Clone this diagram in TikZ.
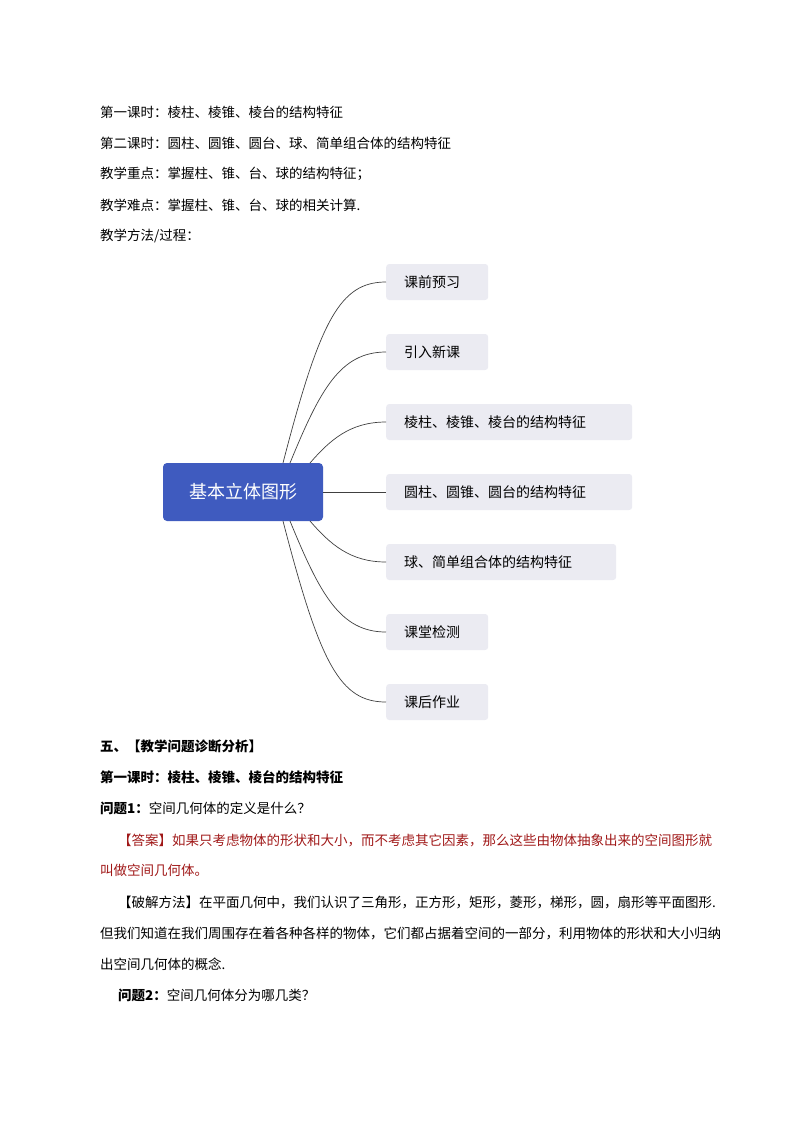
\documentclass[tikz,border=0pt]{standalone}
\usepackage{fontspec}
\setmainfont{Noto Sans CJK SC}
\begin{document}
\begin{tikzpicture}[x=1pt,y=-1pt,
  txt/.style={anchor=west,inner sep=0pt,font=\fontsize{13.5}{14}\selectfont},
  leaf/.style={anchor=west,fill=leafc,rounded corners=3pt,minimum height=36pt,inner xsep=18pt,align=left,font=\fontsize{14}{16}\selectfont},
  conn/.style={draw=black!75,line width=0.7pt}]
\definecolor{leafc}{HTML}{EBEBF2}
\definecolor{rootc}{HTML}{3F5BBF}
\definecolor{ansc}{HTML}{A01818}
\useasboundingbox (0,0) rectangle (793,1122);
\node[txt] (t1) at (100,112) {第一课时：棱柱、棱锥、棱台的结构特征};
\node[txt] (t2) at (100,143) {第二课时：圆柱、圆锥、圆台、球、简单组合体的结构特征};
\node[txt] (t3) at (100,174) {教学重点：掌握柱、锥、台、球的结构特征；};
\node[txt] (t4) at (100,205) {教学难点：掌握柱、锥、台、球的相关计算.};
\node[txt] (t5) at (100,236) {教学方法/过程：};
\node[fill=rootc,rounded corners=4pt,minimum width=160pt,minimum height=58pt,text=white,font=\fontsize{18}{20}\selectfont] (root) at (243,492) {基本立体图形};
\node[leaf,text width=66pt] (b1) at (386,282) {课前预习};
\node[leaf,text width=66pt] (b2) at (386,352) {引入新课};
\node[leaf,text width=210pt] (b3) at (386,422) {棱柱、棱锥、棱台的结构特征};
\node[leaf,text width=210pt] (b4) at (386,492) {圆柱、圆锥、圆台的结构特征};
\node[leaf,text width=194pt] (b5) at (386,562) {球、简单组合体的结构特征};
\node[leaf,text width=66pt] (b6) at (386,632) {课堂检测};
\node[leaf,text width=66pt] (b7) at (386,702) {课后作业};
\coordinate (r1) at (283,463); \coordinate (r2) at (290,463); \coordinate (r3) at (310,463);
\coordinate (r5) at (310,521); \coordinate (r6) at (290,521); \coordinate (r7) at (283,521);
\draw[conn] (r1) .. controls (320,320) and (340,282) .. (b1.west);
\draw[conn] (r2) .. controls (320,390) and (340,352) .. (b2.west);
\draw[conn] (r3) .. controls (330,440) and (350,422) .. (b3.west);
\draw[conn] (root.east) -- (b4.west);
\draw[conn] (r5) .. controls (330,544) and (350,562) .. (b5.west);
\draw[conn] (r6) .. controls (320,594) and (340,632) .. (b6.west);
\draw[conn] (r7) .. controls (320,664) and (340,702) .. (b7.west);
\node[txt,font=\fontsize{13.5}{14}\selectfont\bfseries] (s1) at (100,746) {五、【教学问题诊断分析】};
\node[txt,font=\fontsize{13.5}{14}\selectfont\bfseries] (s2) at (100,777) {第一课时：棱柱、棱锥、棱台的结构特征};
\node[txt] (s3) at (100,808) {\textbf{问题1：}空间几何体的定义是什么？};
\node[txt,text=ansc] (s4) at (118,840) {【答案】如果只考虑物体的形状和大小，而不考虑其它因素，那么这些由物体抽象出来的空间图形就};
\node[txt,text=ansc] (s5) at (100,870) {叫做空间几何体。};
\node[txt] (s6) at (118,902) {【破解方法】在平面几何中，我们认识了三角形，正方形，矩形，菱形，梯形，圆，扇形等平面图形.};
\node[txt] (s7) at (100,933) {但我们知道在我们周围存在着各种各样的物体，它们都占据着空间的一部分，利用物体的形状和大小归纳};
\node[txt] (s8) at (100,964) {出空间几何体的概念.};
\node[txt] (s9) at (118,995) {\textbf{问题2：}空间几何体分为哪几类？};
\end{tikzpicture}
\end{document}
